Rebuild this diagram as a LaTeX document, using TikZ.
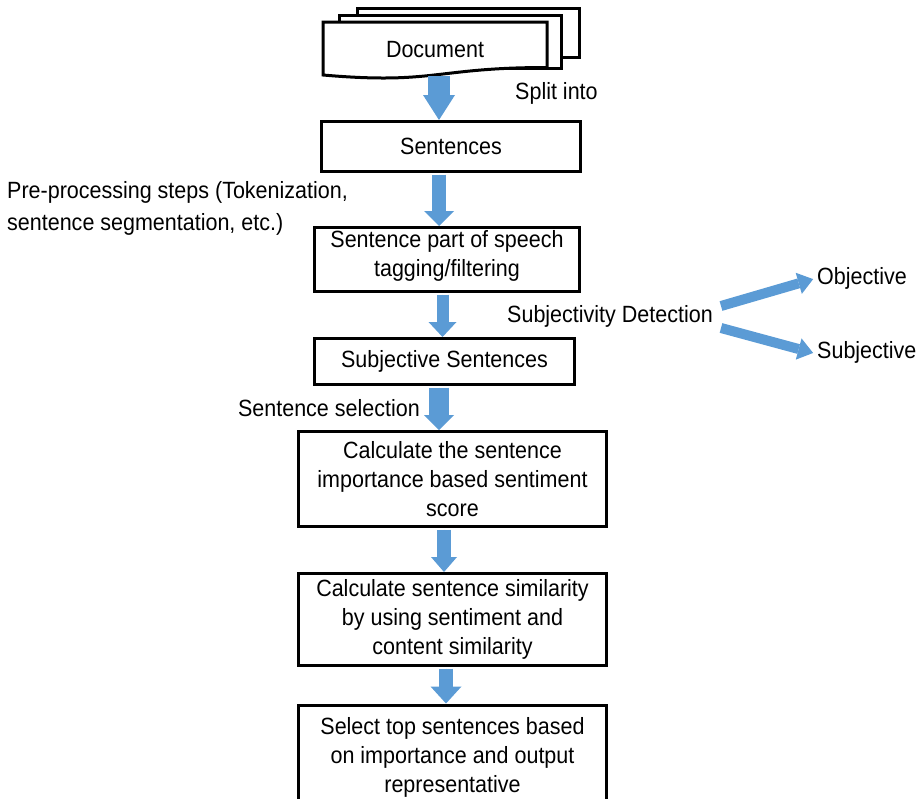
\documentclass[tikz,border=0pt]{standalone}
\usepackage{fontspec}
\setmainfont{Liberation Sans}[FakeStretch=0.915]
\usetikzlibrary{arrows.meta}
\definecolor{arrowblue}{RGB}{91,155,213}
\newcommand{\fs}{\fontsize{23.5pt}{29pt}\selectfont}
\tikzset{
  box/.style={draw, line width=3pt, align=center, inner sep=0pt, font=\fs},
  lbl/.style={inner sep=0pt, font=\fs},
  page/.style={draw, line width=3pt, fill=white, line join=miter},
  blk/.style args={#1/#2/#3}{draw=arrowblue, line width=#1pt,
    -{Triangle[length=#3pt,width=#2pt,line width=0pt]}, fill=arrowblue}
}
\begin{document}
\begin{tikzpicture}[x=1pt,y=-1pt]
\useasboundingbox (0,0) rectangle (921,798);

% stacked document pages
\draw[page] (357,8) rectangle (579,57);
\draw[page] (339,15.5) rectangle (561,68);
\draw[page] (323,22) -- (547,22) -- (547,67.5)
  .. controls (435,67.5) and (435,84.8) .. (323,75) -- cycle;
\node[lbl] (doc) at (435,50) {Document};
\coordinate (docb) at (439,76);

% process boxes
\node[box, minimum width=259pt, minimum height=50pt] (sent) at (451,146.5) {Sentences};
\node[box, minimum width=265pt, minimum height=64pt, text depth=12pt] (pos) at (447,259.5) {Sentence part of speech\\tagging/filtering};
\node[box, minimum width=260pt, minimum height=46pt] (subjs) at (444.5,361.5) {Subjective Sentences};
\node[box, minimum width=308pt, minimum height=95pt] (calc) at (452.5,479) {Calculate the sentence\\importance based sentiment\\score};
\node[box, minimum width=308pt, minimum height=92pt] (sim) at (452.5,619.5) {Calculate sentence similarity\\by using sentiment and\\content similarity};
\node[box, minimum width=308pt, minimum height=104pt] (sel) at (452.5,757) {Select top sentences based\\on importance and output\\representative};

% side labels
\node[lbl, anchor=west] (split) at (515,93) {Split into};
\node[lbl, anchor=west, align=left, font=\fontsize{23.5pt}{32pt}\selectfont] (pre) at (7,208) {Pre-processing steps (Tokenization,\\sentence segmentation, etc.)};
\node[lbl, anchor=west] (detect) at (507,316) {Subjectivity Detection};
\node[lbl, anchor=west] (obj) at (817,278) {Objective};
\node[lbl, anchor=west] (subjo) at (817,352) {Subjective};
\node[lbl, anchor=east] (selc) at (420,408) {Sentence selection};

% block arrows
\draw[blk=22/32/25] (docb) -- ([xshift=-12pt]sent.north);
\draw[blk=14/30/15, shorten <=1.5pt] ([xshift=-12pt]sent.south) -- ([xshift=-8pt]pos.north);
\draw[blk=12/28/15, shorten <=1.5pt] ([xshift=-4.5pt]pos.south) -- ([xshift=-2pt]subjs.north);
\draw[blk=20/30/15, shorten <=1.5pt] ([xshift=-5.5pt]subjs.south) -- ([xshift=-13.5pt]calc.north);
\draw[blk=14/26/15, shorten <=1.5pt] ([xshift=-8.5pt]calc.south) -- ([xshift=-8.5pt]sim.north);
\draw[blk=14/31/17, shorten <=1.5pt] ([xshift=-6.5pt]sim.south) -- ([xshift=-6.5pt]sel.north);
\draw[blk=10/22/15, shorten >=4pt] (721,306) -- (obj.west);
\draw[blk=10/22/15, shorten >=4pt] (721,328) -- ([yshift=-2pt]subjo.west);
\end{tikzpicture}
\end{document}
